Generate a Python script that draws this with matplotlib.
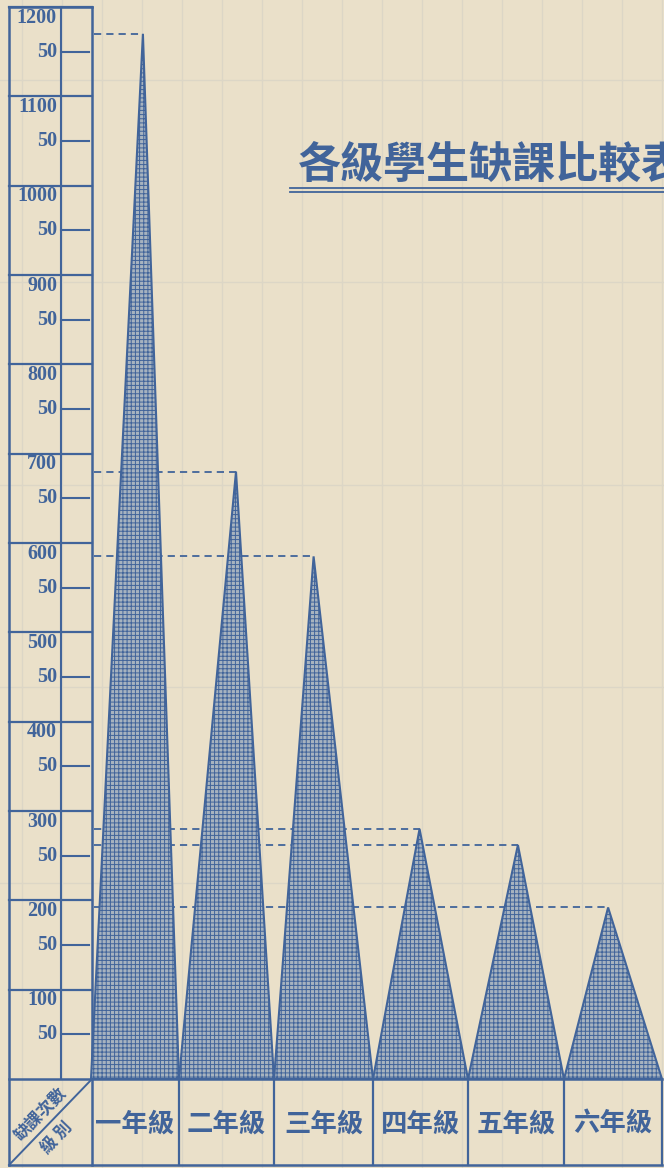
import matplotlib.pyplot as plt
from matplotlib.patches import Polygon

plt.rcParams['font.family'] = ['Noto Sans CJK TC', 'DejaVu Sans']
plt.rcParams['hatch.linewidth'] = 0.7

# data
grades = ['一年級', '二年級', '三年級', '四年級', '五年級', '六年級']
absences = [1170, 680, 585, 280, 262, 192]
scale_major = list(range(100, 1300, 100))
scale_minor = list(range(50, 1200, 100))
title = '各級學生缺課比較表'
corner_top = '缺課次數'
corner_bottom = '級 別'

W, H = 664, 1168
INK = '#41649a'
PAPER = '#eae0c9'
FAINT = '#dcd6c6'

# layout (pixels)
col_edges = [91, 179, 274, 373, 468, 564, 662]
apex_frac = [0.59, 0.60, 0.40, 0.49, 0.52, 0.45]
left, inner, right, base_y, top_y, row_bottom = 9, 61, 92, 1079, 7, 1165

fig = plt.figure(figsize=(W / 100, H / 100), dpi=100, facecolor=PAPER)

# pixel frame for table lines and text
fr = fig.add_axes([0, 0, 1, 1])
fr.set_xlim(0, W)
fr.set_ylim(H, 0)
fr.axis('off')

# value axes for the triangles and the scale
ax = fig.add_axes([left / W, (H - base_y) / H, (W - left) / W, (base_y - top_y) / H])
ax.set_xlim(left, W)
ax.set_ylim(0, 1200)
ax.axis('off')
ax.patch.set_alpha(0)

# faint paper rules
for x in range(22, W, 40):
    fr.plot([x, x], [0, H], color=FAINT, lw=1, zorder=0)
for y in [80, 282, 485, 687, 883]:
    fr.plot([0, W], [y, y], color=FAINT, lw=1, zorder=0)

# scale panel
ax.plot([left, right], [1200, 1200], color=INK, lw=1.8, clip_on=False)
num_font = dict(family='Liberation Serif', weight='bold', fontsize=14.5, color=INK)
for v in scale_major:
    ax.plot([left, right], [v, v], color=INK, lw=1.6, clip_on=False)
    ax.text(57, v - 12, str(v), ha='right', va='center', **num_font)
for v in scale_minor:
    ax.plot([inner, 89], [v, v], color=INK, lw=1.5)
    ax.text(57, v, '50', ha='right', va='center', **num_font)

# table lines
fr.plot([left, left], [top_y, row_bottom], color=INK, lw=1.8)
fr.plot([right, right], [top_y, row_bottom], color=INK, lw=1.8)
fr.plot([inner, inner], [top_y, base_y], color=INK, lw=1.5)
fr.plot([left, col_edges[-1]], [base_y, base_y], color=INK, lw=1.8)
fr.plot([left, col_edges[-1]], [row_bottom, row_bottom], color=INK, lw=1.8)
for x in col_edges[1:]:
    fr.plot([x, x], [base_y, row_bottom], color=INK, lw=1.6)
fr.plot([left, right], [row_bottom, base_y], color=INK, lw=1.4)

# triangles and dashed guides
for i, v in enumerate(absences):
    l, r = col_edges[i], col_edges[i + 1]
    apex = l + apex_frac[i] * (r - l)
    ax.plot([right + 2, apex], [v, v], color=INK, lw=1.3,
            ls=(0, (4, 2.8)), zorder=2)
    tri = Polygon([(l, 0), (apex, v), (r, 0)], closed=True,
                  facecolor='#a7b3bf', edgecolor=INK, hatch='++++',
                  lw=1.5, zorder=3)
    ax.add_patch(tri)
    fr.text((l + r) / 2, 1124, grades[i], ha='center', va='center',
            fontsize=19, weight='bold', color=INK)

# corner cell
fr.text(41, 1114, corner_top, rotation=46, ha='center', va='center',
        fontsize=12, weight='bold', color=INK)
fr.text(57, 1138, corner_bottom, rotation=46, ha='center', va='center',
        fontsize=12, weight='bold', color=INK)

# title
fr.text(298, 165, title, ha='left', va='center', fontsize=31,
        weight='bold', color=INK)
fr.plot([290, W], [188, 188], color=INK, lw=1.3)
fr.plot([290, W], [192, 192], color=INK, lw=1.3)

fig.savefig('out.png', dpi=100, facecolor=PAPER)
